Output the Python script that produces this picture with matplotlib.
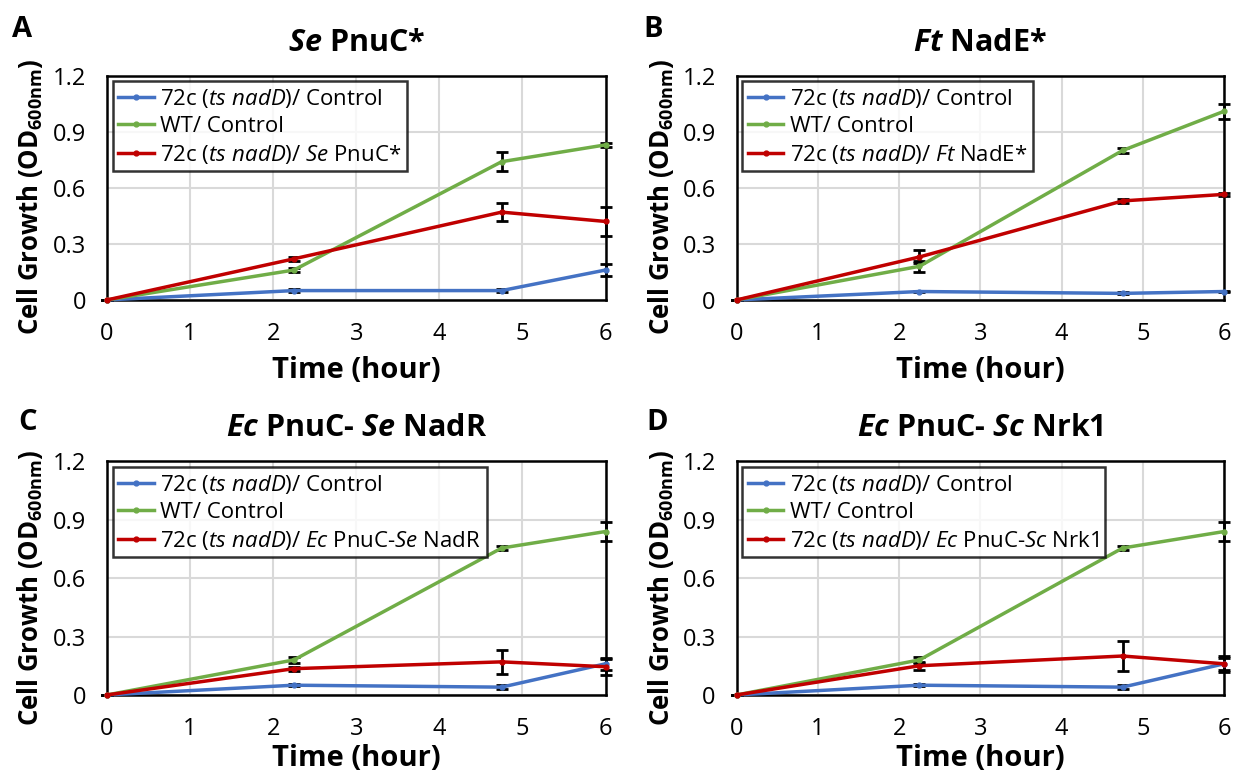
import matplotlib
matplotlib.use("Agg")
import matplotlib.pyplot as plt

plt.rcParams['font.family'] = ['Open Sans', 'DejaVu Sans']
plt.rcParams['mathtext.fontset'] = 'custom'
plt.rcParams['mathtext.rm'] = 'Open Sans'
plt.rcParams['mathtext.it'] = 'Open Sans:italic'
plt.rcParams['mathtext.bf'] = 'Open Sans:bold'
plt.rcParams['mathtext.bfit'] = 'Open Sans:italic:bold'

# time points (hour)
zaman = [0, 2.25, 4.75, 6]

# panel A - Se PnuC*
a_mavi = [0, 0.05, 0.05, 0.16]
a_mavi_hata = [0, 0.01, 0.01, 0.03]
a_yesil = [0, 0.16, 0.74, 0.83]
a_yesil_hata = [0, 0.01, 0.05, 0.01]
a_kirmizi = [0, 0.22, 0.47, 0.42]
a_kirmizi_hata = [0, 0.01, 0.05, 0.08]

# panel B - Ft NadE*
b_mavi = [0, 0.045, 0.035, 0.045]
b_mavi_hata = [0, 0.005, 0.005, 0.005]
b_yesil = [0, 0.18, 0.80, 1.01]
b_yesil_hata = [0, 0.03, 0.015, 0.04]
b_kirmizi = [0, 0.23, 0.53, 0.565]
b_kirmizi_hata = [0, 0.035, 0.01, 0.01]

# panel C - Ec PnuC- Se NadR
c_mavi = [0, 0.05, 0.04, 0.16]
c_mavi_hata = [0, 0.005, 0.01, 0.03]
c_yesil = [0, 0.18, 0.755, 0.84]
c_yesil_hata = [0, 0.015, 0.01, 0.05]
c_kirmizi = [0, 0.135, 0.17, 0.145]
c_kirmizi_hata = [0, 0.01, 0.06, 0.04]

# panel D - Ec PnuC- Sc Nrk1
d_mavi = [0, 0.05, 0.04, 0.16]
d_mavi_hata = [0, 0.005, 0.01, 0.03]
d_yesil = [0, 0.18, 0.755, 0.84]
d_yesil_hata = [0, 0.015, 0.01, 0.05]
d_kirmizi = [0, 0.15, 0.20, 0.16]
d_kirmizi_hata = [0, 0.02, 0.075, 0.04]

basliklar = [r"$\mathbfit{Se}$ PnuC*", r"$\mathbfit{Ft}$ NadE*",
             r"$\mathbfit{Ec}$ PnuC- $\mathbfit{Se}$ NadR", r"$\mathbfit{Ec}$ PnuC- $\mathbfit{Sc}$ Nrk1"]
kirmizi_etiket = [r"72c ($\mathit{ts\ nadD}$)/ $\mathit{Se}$ PnuC*",
                  r"72c ($\mathit{ts\ nadD}$)/ $\mathit{Ft}$ NadE*",
                  r"72c ($\mathit{ts\ nadD}$)/ $\mathit{Ec}$ PnuC-$\mathit{Se}$ NadR",
                  r"72c ($\mathit{ts\ nadD}$)/ $\mathit{Ec}$ PnuC-$\mathit{Sc}$ Nrk1"]
harfler = ["A", "B", "C", "D"]

veriler = [
    (a_mavi, a_mavi_hata, a_yesil, a_yesil_hata, a_kirmizi, a_kirmizi_hata),
    (b_mavi, b_mavi_hata, b_yesil, b_yesil_hata, b_kirmizi, b_kirmizi_hata),
    (c_mavi, c_mavi_hata, c_yesil, c_yesil_hata, c_kirmizi, c_kirmizi_hata),
    (d_mavi, d_mavi_hata, d_yesil, d_yesil_hata, d_kirmizi, d_kirmizi_hata),
]

konumlar = [
    [0.0867, 0.612, 0.404, 0.290],
    [0.597, 0.612, 0.395, 0.290],
    [0.0867, 0.101, 0.404, 0.302],
    [0.597, 0.101, 0.395, 0.302],
]
harf_konum = [(0.010, 0.952), (0.521, 0.952), (0.015, 0.444), (0.524, 0.444)]
x_etiket_bosluk = [7, 7, 2, 2]

MAVI = "#4472C4"
YESIL = "#70AD47"
KIRMIZI = "#C00000"

fig = plt.figure(figsize=(12.34, 7.73), dpi=100)

for i in range(4):
    ax = fig.add_axes(konumlar[i])
    mavi, mh, yesil, yh, kirmizi, kh = veriler[i]
    seriler = [(mavi, mh, MAVI, r"72c ($\mathit{ts\ nadD}$)/ Control"),
               (yesil, yh, YESIL, "WT/ Control"),
               (kirmizi, kh, KIRMIZI, kirmizi_etiket[i])]
    cizgiler = []
    etiketler = []
    for y, hata, renk, etiket in seriler:
        eb = ax.errorbar(zaman, y, yerr=hata, color=renk, lw=2.5, marker='o', ms=3.5,
                         ecolor='black', elinewidth=2, capsize=4, capthick=2,
                         clip_on=False, zorder=3)
        cizgiler.append(eb[0])
        etiketler.append(etiket)
    ax.set_xlim(0, 6)
    ax.set_ylim(0, 1.2)
    ax.set_xticks(range(7))
    ax.set_yticks([0, 0.3, 0.6, 0.9, 1.2])
    ax.set_yticklabels(["0", "0.3", "0.6", "0.9", "1.2"])
    ax.grid(True, color="#d9d9d9", lw=1.5)
    ax.set_axisbelow(True)
    ax.tick_params(axis='x', length=0, labelsize=17, pad=16)
    ax.tick_params(axis='y', length=0, labelsize=17, pad=15)
    for sp in ax.spines.values():
        sp.set_linewidth(1.8)
        sp.set_color("black")
    ax.set_xlabel("Time (hour)", fontsize=21, fontweight="bold", labelpad=x_etiket_bosluk[i])
    ax.set_ylabel(r"Cell Growth (OD$_{\mathbf{600nm}}$)", fontsize=18.5, fontweight="bold")
    ax.yaxis.set_label_coords(-0.125, 0.46)
    ax.set_title(basliklar[i], fontsize=22, fontweight="bold", pad=18)
    leg = ax.legend(cizgiler, etiketler, loc="upper left", fontsize=16, frameon=True, fancybox=False,
                    borderaxespad=0.25, handlelength=1.6, handletextpad=0.3,
                    labelspacing=0.27, borderpad=0.25)
    leg.get_frame().set_edgecolor("black")
    leg.get_frame().set_linewidth(1.8)
    fig.text(harf_konum[i][0], harf_konum[i][1], harfler[i], fontsize=21, fontweight="bold")

fig.savefig("out.png", dpi=100)
